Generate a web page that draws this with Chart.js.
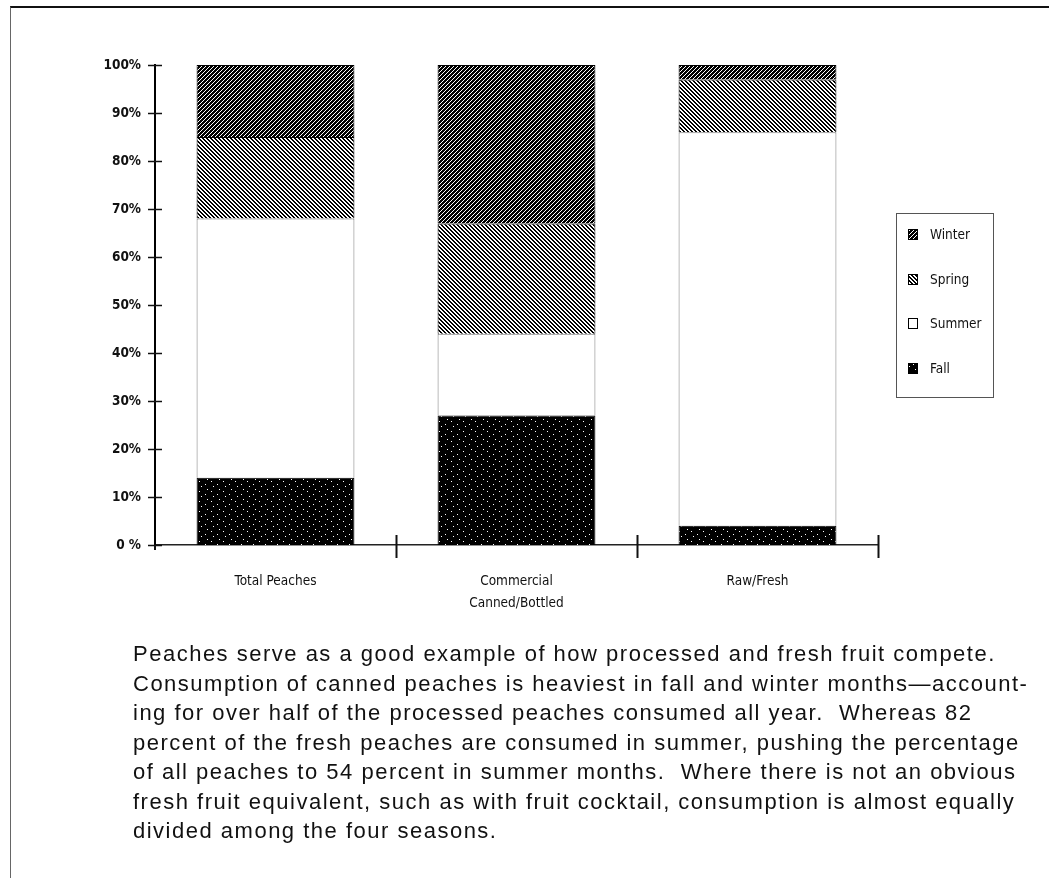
<!DOCTYPE html>
<html>
<head>
<meta charset="utf-8">
<script src="https://cdn.jsdelivr.net/npm/chart.js@4"></script>
<style>
  body { margin: 0; background: #fff; }
  #frame { position: absolute; left: 10px; top: 6px; width: 1039px; height: 872px;
           border-top: 2px solid #111; border-left: 1px solid #666; }
  #wrap { position: absolute; left: 0; top: 0; width: 1049px; height: 640px; }
  #caption { position: absolute; left: 133px; top: 639px; margin: 0;
             font: 22px "Liberation Sans", Arial, sans-serif; line-height: 29.5px;
             letter-spacing: 1.5px; color: #111; white-space: pre; }
</style>
</head>
<body>
<div id="frame"></div>
<div id="wrap"><canvas id="peachChart" width="1049" height="640"></canvas></div>
<p id="caption">Peaches serve as a good example of how processed and fresh fruit compete.
Consumption of canned peaches is heaviest in fall and winter months—account-
ing for over half of the processed peaches consumed all year.  Whereas 82
percent of the fresh peaches are consumed in summer, pushing the percentage
of all peaches to 54 percent in summer months.  Where there is not an obvious
fresh fruit equivalent, such as with fruit cocktail, consumption is almost equally
divided among the four seasons.</p>
<script>
// data (percent of year's consumption)
const categories = [["Total Peaches"], ["Commercial", "Canned/Bottled"], ["Raw/Fresh"]];
const fall = [14, 27, 4];
const summer = [54, 17, 82];
const spring = [17, 23, 11];
const winter = [15, 33, 3];
const yTickLabels = ["0 %", "10%", "20%", "30%", "40%", "50%", "60%", "70%", "80%", "90%", "100%"];

// little bitmap fills like the old mac patterns
function makePattern(rows) {
    const c = document.createElement("canvas");
    c.width = rows[0].length;
    c.height = rows.length;
    const g = c.getContext("2d");
    g.fillStyle = "#fff";
    g.fillRect(0, 0, c.width, c.height);
    g.fillStyle = "#000";
    rows.forEach((r, y) => {
        [...r].forEach((ch, x) => { if (ch === "1") g.fillRect(x, y, 1, 1); });
    });
    return g.createPattern(c, "repeat");
}

const winterFill = makePattern(["1110", "1101", "1011", "0111"]);
const springFill = makePattern(["1100", "0110", "0011", "1001"]);
const fallFill = makePattern([
    "111111111111",
    "111111101111",
    "111111111111",
    "111111111111",
    "101111111111",
    "111111111111",
    "111111111011",
    "111111111111",
    "111111111111",
    "111011111111",
]);

// tick marks that cross the axis lines
const crossTicks = {
    id: "crossTicks",
    afterDraw(chart) {
        const ctx = chart.ctx;
        const x = chart.scales.x;
        const y = chart.scales.y;
        ctx.save();
        ctx.strokeStyle = "#111";
        ctx.lineWidth = 1.5;
        y.ticks.forEach((t) => {
            const py = Math.round(y.getPixelForValue(t.value)) + 0.5;
            ctx.beginPath();
            ctx.moveTo(x.left - 7, py);
            ctx.lineTo(x.left + 7, py);
            ctx.stroke();
        });
        const step = x.getPixelForValue(1) - x.getPixelForValue(0);
        for (let i = 0; i < categories.length; i++) {
            const px = Math.round(x.getPixelForValue(i) + step / 2) + 0.5;
            ctx.lineWidth = 2;
            ctx.beginPath();
            ctx.moveTo(px, y.bottom - 10);
            ctx.lineTo(px, y.bottom + 13);
            ctx.stroke();
        }
        ctx.lineWidth = 2;
        ctx.beginPath();
        ctx.moveTo(x.left, y.bottom);
        ctx.lineTo(x.left, y.bottom + 5);
        ctx.stroke();
        ctx.restore();
    },
};

// boxed legend, top item = top of stack
const boxLegend = {
    id: "boxLegend",
    afterDraw(chart) {
        const ctx = chart.ctx;
        ctx.save();
        ctx.strokeStyle = "#555";
        ctx.lineWidth = 1;
        ctx.strokeRect(896.5, 213.5, 97, 184);
        const sets = chart.data.datasets.slice().reverse();
        ctx.font = "13.5px 'DejaVu Sans Condensed', sans-serif";
        ctx.textBaseline = "middle";
        sets.forEach((ds, i) => {
            const sy = Math.round(229 + i * 44.5);
            ctx.fillStyle = ds.backgroundColor;
            ctx.fillRect(908, sy, 10, 11);
            ctx.strokeStyle = "#000";
            ctx.strokeRect(908.5, sy + 0.5, 9, 10);
            ctx.fillStyle = "#111";
            ctx.fillText(ds.label, 930, sy + 6);
        });
        ctx.restore();
    },
};

const ctx = document.getElementById("peachChart").getContext("2d");
const peachChart = new Chart(ctx, {
    type: "bar",
    data: {
        labels: categories,
        datasets: [
            { label: "Fall", data: fall, backgroundColor: fallFill, borderColor: "#000", borderWidth: 1 },
            { label: "Summer", data: summer, backgroundColor: "#fff", borderColor: "#777", borderWidth: 1 },
            { label: "Spring", data: spring, backgroundColor: springFill, borderColor: "#000", borderWidth: 1 },
            { label: "Winter", data: winter, backgroundColor: winterFill, borderColor: "#000", borderWidth: 1 },
        ],
    },
    options: {
        responsive: false,
        animation: false,
        devicePixelRatio: 1,
        layout: { padding: { left: 0, top: 65, right: 171, bottom: 0 } },
        datasets: { bar: { categoryPercentage: 1, barPercentage: 0.655 } },
        plugins: { legend: { display: false }, tooltip: { enabled: false } },
        scales: {
            x: {
                stacked: true,
                grid: { display: false, drawTicks: false },
                border: { display: true, color: "#222", width: 1.5 },
                ticks: {
                    color: "#111",
                    padding: 26,
                    maxRotation: 0,
                    font: { family: "'DejaVu Sans Condensed', sans-serif", size: 13.5, lineHeight: 1.6 },
                },
                afterFit(scale) { scale.height = 95; },
            },
            y: {
                stacked: true,
                min: 0,
                max: 100,
                grid: { display: false, drawTicks: false },
                border: { display: true, color: "#000", width: 2 },
                ticks: {
                    stepSize: 10,
                    padding: 14,
                    color: "#111",
                    font: { family: "'DejaVu Sans Condensed', sans-serif", size: 13.5, weight: "bold" },
                    callback: (v) => yTickLabels[v / 10],
                },
                afterFit(scale) { scale.width = 155; },
            },
        },
    },
    plugins: [crossTicks, boxLegend],
});
</script>
</body>
</html>
